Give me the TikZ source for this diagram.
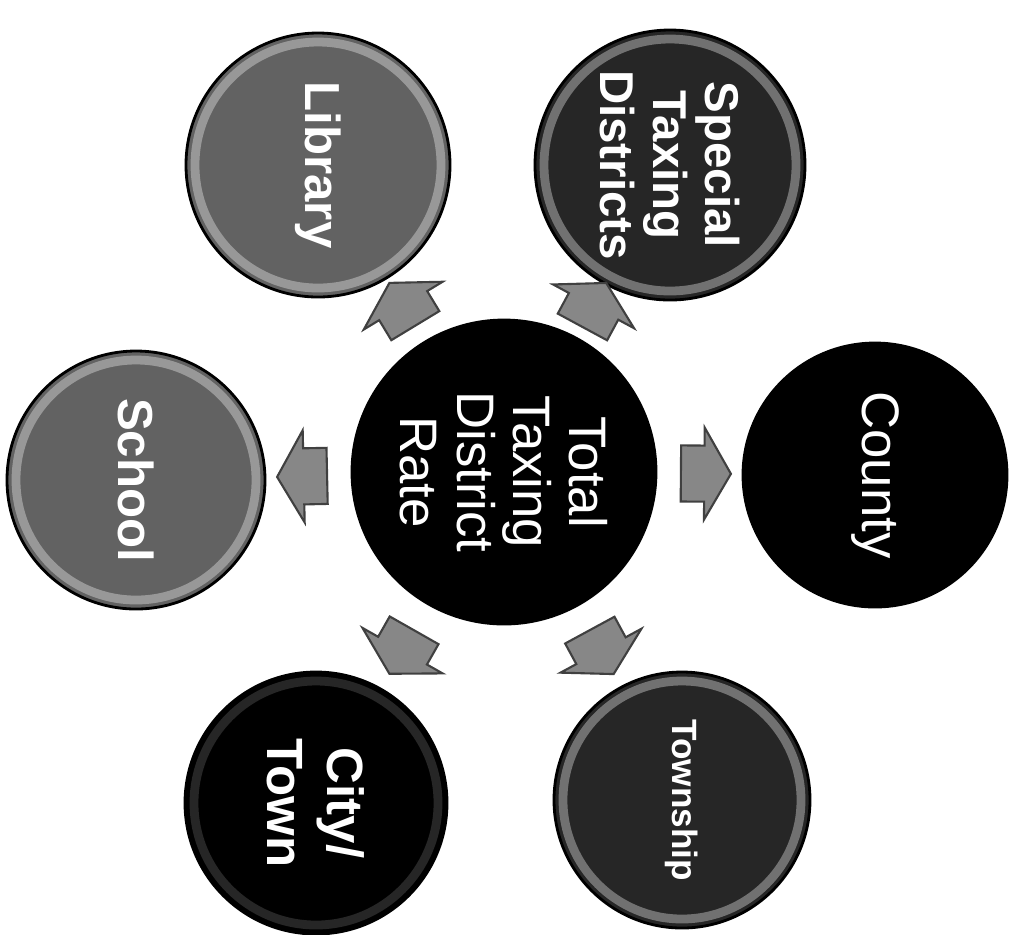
\documentclass[tikz,border=0pt]{standalone}
\usepackage{fontspec}
\setmainfont{Liberation Sans}
\usetikzlibrary{shapes.arrows,calc}
\definecolor{grisc}{RGB}{98,98,98}
\definecolor{griso}{RGB}{38,38,38}
\definecolor{grisf}{RGB}{135,135,135}
\tikzset{
  bola/.style={circle, draw=black, line width=0.8pt, inner sep=0pt, align=center, text=white, rotate=-90},
  eti/.style={font=\bfseries\fontsize{14}{16}\selectfont},
  etn/.style={font=\fontsize{15}{16}\selectfont},
  flecha/.style={single arrow, draw=black!75, fill=grisf, line width=0.6pt, inner xsep=0pt, inner ysep=0.27cm,
    minimum height=0.5cm, single arrow head extend=0.18cm, single arrow tip angle=120},
  borde/.style={white, line width=2.5pt, opacity=0.35},
}
\begin{document}
\begin{tikzpicture}
  \useasboundingbox (0,0) rectangle (10.16,-9.34);
  % centre
  \node[bola, etn, fill=black, minimum size=3.04cm] (tot) at (5.04,-4.72) {Total\\Taxing\\District\\Rate};
  % outer circles
  \node[bola, eti, fill=grisc, minimum size=2.64cm] (lib) at (3.18,-1.65) {Library};
  \node[bola, eti, fill=griso, minimum size=2.70cm, font=\bfseries\fontsize{13.5}{15}\selectfont] (spec) at (6.70,-1.65) {Special\\Taxing\\Districts};
  \node[bola, etn, fill=black, minimum size=2.64cm] (cty) at (8.75,-4.75) {County};
  \node[bola, eti, fill=griso, minimum size=2.56cm, font=\bfseries\fontsize{10}{12}\selectfont] (twp) at (6.82,-8.00) {Township};
  \node[bola, eti, fill=black, minimum size=2.62cm, font=\bfseries\fontsize{14.5}{17}\selectfont] (city) at (3.16,-8.03) {City/\\Town};
  \node[bola, eti, fill=grisc, minimum size=2.58cm] (sch) at (1.36,-4.80) {School};
  % light rims
  \foreach \n/\r in {lib/1.23, spec/1.26, twp/1.19, sch/1.20}
    \draw[borde] (\n) circle[radius=\r];
  \draw[borde, opacity=0.15] (city) circle[radius=1.22];
  % block arrows
  \foreach \n in {lib, spec, cty, twp, city, sch}
    \path (tot) -- node[flecha, sloped, allow upside down, pos=0.48] (f-\n) {} (\n);
\end{tikzpicture}
\end{document}
